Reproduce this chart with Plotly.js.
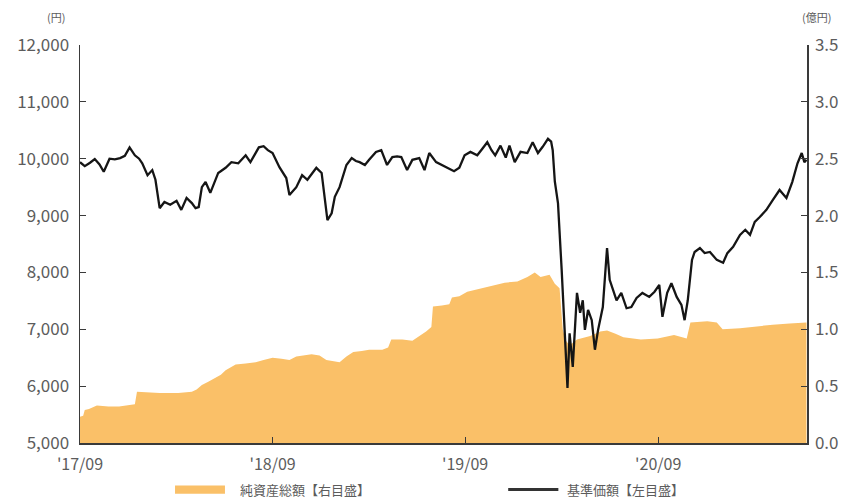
<!DOCTYPE html>
<html>
<head>
<meta charset="utf-8">
<script src="https://cdn.plot.ly/plotly-3.0.1.min.js"></script>
<style>html,body{margin:0;padding:0;background:#fff;}#chart{width:848px;height:502px;}</style>
</head>
<body>
<div id="chart"></div>
<script>
// 基準価額（円）
const navDates = [
"2017-09-01","2017-09-10","2017-09-20","2017-09-29","2017-10-08","2017-10-16","2017-10-27","2017-11-06","2017-11-16","2017-11-25",
"2017-12-04","2017-12-14","2017-12-22","2017-12-28","2018-01-07","2018-01-16","2018-01-22","2018-01-30","2018-02-08","2018-02-19",
"2018-03-03","2018-03-12","2018-03-22","2018-04-01","2018-04-08","2018-04-14","2018-04-20","2018-04-27","2018-05-06","2018-05-14",
"2018-05-21","2018-06-04","2018-06-15","2018-06-28","2018-07-12","2018-07-21","2018-07-31","2018-08-06","2018-08-15","2018-08-23",
"2018-09-01","2018-09-14","2018-09-27","2018-10-03","2018-10-16","2018-10-27","2018-11-06","2018-11-16","2018-11-23","2018-12-03",
"2018-12-11","2018-12-14","2018-12-22","2018-12-28","2019-01-06","2019-01-19","2019-01-29","2019-02-06","2019-02-13","2019-02-23",
"2019-03-03","2019-03-16","2019-03-26","2019-04-06","2019-04-16","2019-04-25","2019-05-03","2019-05-14","2019-05-24","2019-06-06",
"2019-06-16","2019-06-25","2019-07-08","2019-07-16","2019-07-29","2019-08-11","2019-08-21","2019-08-31","2019-09-11","2019-09-24",
"2019-10-04","2019-10-13","2019-10-21","2019-10-28","2019-11-07","2019-11-17","2019-11-24","2019-12-04","2019-12-15","2019-12-28",
"2020-01-07","2020-01-17","2020-01-26","2020-02-05","2020-02-11","2020-02-14","2020-02-18","2020-02-24","2020-03-02","2020-03-08",
"2020-03-13","2020-03-17","2020-03-23","2020-03-31","2020-04-06","2020-04-11","2020-04-15","2020-04-21","2020-04-28","2020-05-04",
"2020-05-10","2020-05-19","2020-05-27","2020-06-01","2020-06-06","2020-06-14","2020-06-23","2020-07-03","2020-07-12","2020-07-22",
"2020-08-02","2020-08-15","2020-08-25","2020-09-03","2020-09-09","2020-09-18","2020-09-26","2020-10-06","2020-10-15","2020-10-21",
"2020-10-27","2020-11-04","2020-11-09","2020-11-19","2020-11-28","2020-12-08","2020-12-21","2021-01-02","2021-01-10","2021-01-21",
"2021-02-03","2021-02-13","2021-02-22","2021-03-03","2021-03-12","2021-03-25","2021-04-06","2021-04-19","2021-05-02","2021-05-13",
"2021-05-23","2021-05-31","2021-06-05","2021-06-09"
];
const navValues = [
9940,9870,9930,9995,9900,9770,10000,9990,10010,10050,
10200,10060,10000,9920,9710,9800,9630,9130,9240,9190,
9260,9100,9310,9220,9130,9150,9500,9590,9400,9600,
9750,9840,9940,9920,10060,9940,10100,10200,10220,10150,
10100,9850,9660,9360,9500,9710,9630,9760,9840,9750,
9200,8920,9040,9330,9500,9890,10010,9960,9940,9890,
9980,10120,10150,9890,10030,10040,10030,9800,9980,10010,
9800,10100,9940,9900,9840,9780,9840,10060,10120,10060,
10180,10290,10150,10060,10230,10020,10230,9940,10120,10100,
10290,10100,10210,10350,10300,10150,9600,9220,8040,6860,
5970,6930,6340,7640,7290,7510,6990,7340,7160,6640,
6990,7390,8430,7870,7740,7510,7640,7370,7390,7550,
7640,7570,7660,7780,7220,7640,7810,7570,7430,7160,
7510,8220,8360,8430,8340,8360,8220,8170,8340,8450,
8660,8750,8660,8890,8970,9100,9270,9450,9310,9590,
9920,10100,9940,9980
];

// 純資産総額（億円）
const aumDates = [
"2017-09-01","2017-09-07","2017-09-10","2017-09-18","2017-10-03","2017-10-25","2017-11-14","2017-11-29","2017-12-09","2017-12-14",
"2017-12-18","2018-01-30","2018-03-06","2018-04-01","2018-04-10","2018-04-20","2018-05-03","2018-05-16","2018-05-26","2018-06-04",
"2018-06-14","2018-06-23","2018-07-12","2018-07-31","2018-08-15","2018-09-01","2018-09-18","2018-10-03","2018-10-16","2018-10-27",
"2018-11-14","2018-11-29","2018-12-12","2018-12-26","2019-01-06","2019-01-19","2019-02-01","2019-02-17","2019-03-03","2019-03-28",
"2019-04-08","2019-04-14","2019-05-05","2019-05-24","2019-06-06","2019-06-19","2019-06-29","2019-07-02","2019-07-19","2019-08-02",
"2019-08-07","2019-08-21","2019-09-05","2019-09-24","2019-10-13","2019-11-01","2019-11-15","2019-12-09","2019-12-28","2020-01-11",
"2020-01-22","2020-02-08","2020-02-18","2020-02-27","2020-03-04","2020-03-10","2020-03-17","2020-03-31","2020-04-25","2020-05-14",
"2020-05-27","2020-06-12","2020-06-27","2020-07-30","2020-08-31","2020-10-01","2020-10-25","2020-11-01","2020-12-03","2020-12-21",
"2021-01-01","2021-02-03","2021-03-12","2021-04-06","2021-05-08","2021-06-09"
];
const aumValues = [
0.23,0.24,0.29,0.30,0.33,0.32,0.32,0.33,0.34,0.34,
0.45,0.44,0.44,0.45,0.47,0.51,0.54,0.57,0.60,0.64,
0.67,0.69,0.70,0.71,0.73,0.75,0.74,0.73,0.76,0.77,
0.78,0.77,0.73,0.72,0.71,0.76,0.80,0.81,0.82,0.82,
0.84,0.91,0.91,0.90,0.94,0.98,1.02,1.20,1.21,1.22,
1.28,1.29,1.33,1.35,1.37,1.39,1.41,1.42,1.46,1.50,
1.46,1.48,1.40,1.36,1.00,0.90,0.86,0.91,0.94,0.98,
0.99,0.96,0.93,0.91,0.92,0.95,0.92,1.06,1.07,1.06,
1.00,1.01,1.03,1.04,1.05,1.06
];

const xTickVals = ["2017-09-01","2018-09-01","2019-09-01","2020-09-01"];
const xTickText = ["'17/09","'18/09","'19/09","'20/09"];
const leftTicks = [5000,6000,7000,8000,9000,10000,11000,12000];
const rightTicks = [0,0.5,1.0,1.5,2.0,2.5,3.0,3.5];
const seriesNames = ["純資産総額【右目盛】", "基準価額【左目盛】"];

const FONT = '"Noto Sans CJK JP", "Noto Sans", sans-serif';
const AXIS = '#3a3a3a';
const TXT = '#5c5c5c';
const ORANGE = 'rgb(250,192,104)';
const BLACK = '#151515';

const traces = [
  {
    x: aumDates, y: aumValues, name: seriesNames[0],
    type: 'scatter', mode: 'lines', fill: 'tozeroy',
    fillcolor: ORANGE, line: {width: 0, color: ORANGE},
    yaxis: 'y', hoverinfo: 'skip', showlegend: false
  },
  {
    x: navDates, y: navValues, name: seriesNames[1],
    type: 'scatter', mode: 'lines',
    line: {width: 2.3, color: BLACK},
    yaxis: 'y2', hoverinfo: 'skip', showlegend: false
  }
];

const tickFont = {family: FONT, size: 17, color: TXT};
const LEG_Y = -0.117;

const layout = {
  width: 848, height: 502,
  margin: {l: 80, r: 41, t: 45, b: 59},
  paper_bgcolor: '#ffffff', plot_bgcolor: '#ffffff',
  font: {family: FONT, size: 13, color: TXT},
  showlegend: false,
  xaxis: {
    type: 'date', range: ['2017-09-01', '2021-06-10'],
    tickvals: xTickVals, ticktext: xTickText,
    ticks: 'inside', ticklen: 6, tickwidth: 1.2, tickcolor: AXIS,
    showline: true, linecolor: AXIS, linewidth: 1.5,
    showgrid: false, zeroline: false, ticklabelstandoff: 6,
    tickfont: {family: FONT, size: 16, color: TXT}
  },
  yaxis: {
    side: 'right', range: [0, 3.5],
    tickvals: rightTicks, tickformat: '.1f',
    ticks: 'inside', ticklen: 6, tickwidth: 1.2, tickcolor: AXIS,
    showline: true, linecolor: AXIS, linewidth: 1.5,
    showgrid: false, zeroline: false, ticklabelstandoff: 3,
    tickfont: tickFont
  },
  yaxis2: {
    side: 'left', overlaying: 'y', range: [5000, 12000],
    tickvals: leftTicks, tickformat: ',d',
    ticks: 'inside', ticklen: 6, tickwidth: 1.2, tickcolor: AXIS,
    showline: true, linecolor: AXIS, linewidth: 1.5,
    showgrid: false, zeroline: false, ticklabelstandoff: 6,
    tickfont: tickFont
  },
  shapes: [
    {type: 'rect', xref: 'paper', yref: 'paper', x0: 0.1307, x1: 0.1994, y0: LEG_Y - 0.0105, y1: LEG_Y + 0.0105,
     fillcolor: ORANGE, line: {width: 0}},
    {type: 'line', xref: 'paper', yref: 'paper', x0: 0.589, x1: 0.658, y0: LEG_Y, y1: LEG_Y,
     line: {color: '#333333', width: 3}}
  ],
  annotations: [
    {text: '(円)', xref: 'paper', yref: 'paper', x: -0.018, y: 1.07, xanchor: 'right', yanchor: 'middle',
     showarrow: false, font: {family: FONT, size: 11, color: TXT}},
    {text: '(億円)', xref: 'paper', yref: 'paper', x: 0.99, y: 1.07, xanchor: 'left', yanchor: 'middle',
     showarrow: false, font: {family: FONT, size: 11, color: TXT}},
    {text: seriesNames[0], xref: 'paper', yref: 'paper', x: 0.217, y: LEG_Y, xanchor: 'left', yanchor: 'middle',
     showarrow: false, font: {family: FONT, size: 13, color: TXT}},
    {text: seriesNames[1], xref: 'paper', yref: 'paper', x: 0.667, y: LEG_Y, xanchor: 'left', yanchor: 'middle',
     showarrow: false, font: {family: FONT, size: 13, color: TXT}}
  ]
};

Plotly.newPlot('chart', traces, layout, {displayModeBar: false, staticPlot: true});
</script>
</body>
</html>
